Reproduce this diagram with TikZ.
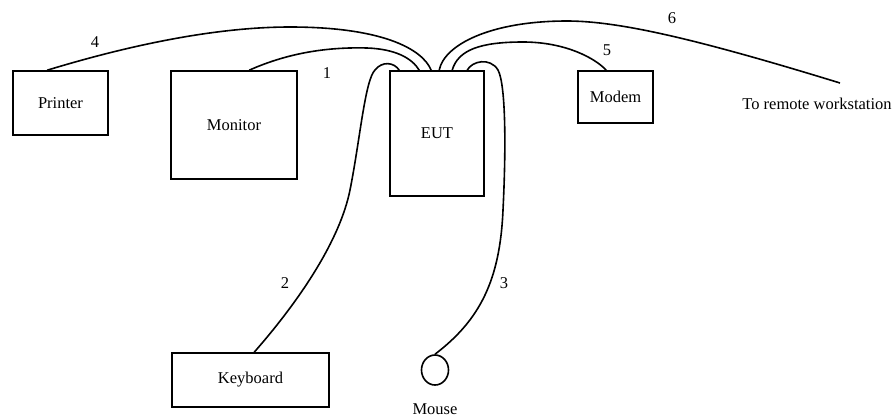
\documentclass[tikz,border=0pt]{standalone}
\usepackage{fontspec}
\setmainfont{Liberation Serif}
\usetikzlibrary{shapes.geometric}
\begin{document}
\begin{tikzpicture}[x=1pt,y=-1pt,
  box/.style={draw,line width=1.6pt,inner sep=0pt,font=\fontsize{16.5}{19}\selectfont},
  cable/.style={line width=1.6pt},
  lbl/.style={font=\fontsize{16.5}{19}\selectfont,inner sep=0pt}]
\useasboundingbox (0,0) rectangle (896,418);
\node[box,minimum width=95pt,minimum height=64pt] (printer) at (60.5,103) {Printer};
\node[box,minimum width=126pt,minimum height=108pt] (monitor) at (234,125) {Monitor};
\node[box,minimum width=94pt,minimum height=125pt] (eut) at (437,133.5) {EUT};
\node[box,minimum width=75pt,minimum height=52pt] (modem) at (615.5,97) {Modem};
\node[box,minimum width=157pt,minimum height=54pt] (keyboard) at (250.5,380) {Keyboard};
\node[draw,ellipse,line width=1.6pt,minimum width=27pt,minimum height=30pt,inner sep=0pt] (mouse) at (435,370) {};
\node[lbl] (mouselbl) at (435,409) {Mouse};
\node[lbl] (remotelbl) at (817,104) {To remote workstation};
\coordinate (remote) at (840,83);
% cable 4: printer
\draw[cable] ([xshift=35pt]printer.north west) .. controls (120,48) and (210,27) .. (290,27)
  .. controls (380,27) and (422,48) .. ([xshift=42pt]eut.north west);
% cable 1: monitor
\draw[cable] ([xshift=79pt]monitor.north west) .. controls (290,52) and (330,47) .. (367,48)
  .. controls (395,49) and (412,58) .. ([xshift=30pt]eut.north west);
% cable 2: keyboard
\draw[cable] ([xshift=83pt]keyboard.north west) .. controls (300,300) and (340,240) .. (350,190)
  .. controls (360,140) and (365,80) .. (375,70) .. controls (382,61) and (394,62) .. ([xshift=10pt]eut.north west);
% cable 3: mouse
\draw[cable] ([xshift=78pt]eut.north west) .. controls (472,61) and (490,57) .. (498,70)
  .. controls (506,85) and (506,150) .. (503,210) .. controls (500,280) and (480,320) .. (mouse.north);
% cable 5: modem
\draw[cable] ([xshift=63pt]eut.north west) .. controls (458,50) and (480,42) .. (523,42)
  .. controls (565,42) and (595,58) .. ([xshift=29pt]modem.north west);
% cable 6: remote
\draw[cable] ([xshift=50pt]eut.north west) .. controls (444,45) and (490,21) .. (567,21)
  .. controls (620,21) and (700,40) .. (remote);
% labels
\node[lbl] (l4) at (95,42) {4};
\node[lbl] (l1) at (327,73) {1};
\node[lbl] (l6) at (672,18) {6};
\node[lbl] (l5) at (607,50) {5};
\node[lbl] (l2) at (285,283) {2};
\node[lbl] (l3) at (504,283) {3};
\end{tikzpicture}
\end{document}
